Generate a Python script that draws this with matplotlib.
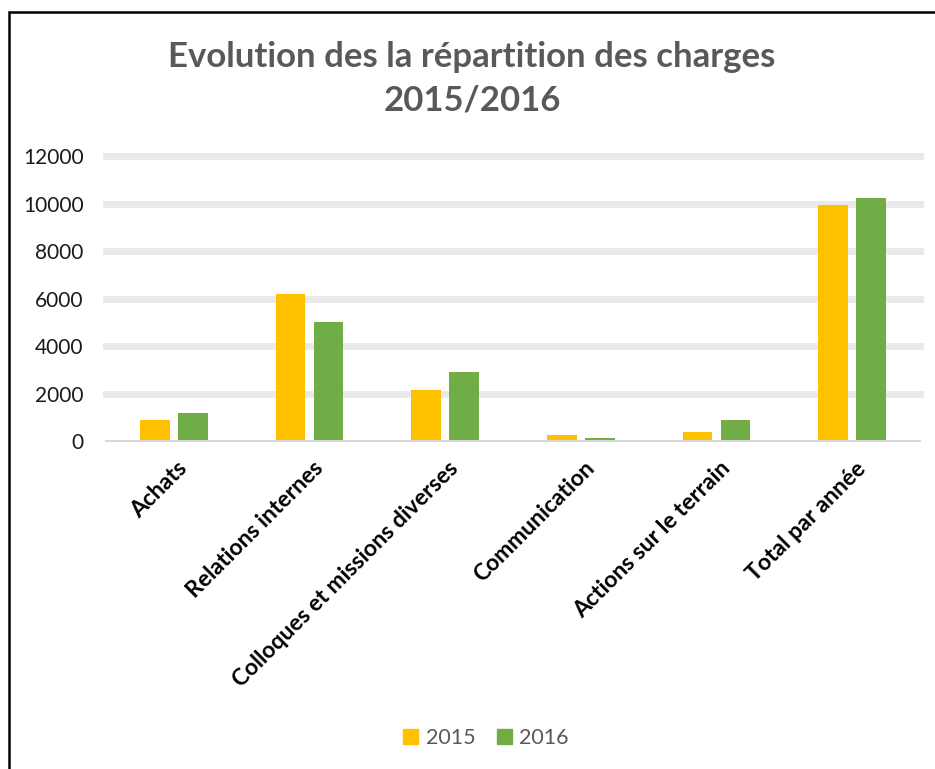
import numpy as np
import matplotlib.pyplot as plt
from matplotlib.patches import Rectangle, Patch

categories = ['Achats', 'Relations internes', 'Colloques et missions diverses',
              'Communication', 'Actions sur le terrain', 'Total par année']
val_2015 = [890, 6190, 2160, 240, 380, 9940]
val_2016 = [1190, 5020, 2900, 130, 880, 10220]
years = ['2015', '2016']
yticks = [0, 2000, 4000, 6000, 8000, 10000, 12000]

plt.rcParams['font.family'] = ['Lato', 'DejaVu Sans']

fig = plt.figure(figsize=(9.35, 7.69), dpi=100)
ax = fig.add_axes([106/935, 1-441/769, 814/935, 285/769])

x = np.arange(len(categories))
w = 0.22
ax.bar(x - 0.14, val_2015, w, color='#FFC000', zorder=3)
ax.bar(x + 0.14, val_2016, w, color='#70AD47', zorder=3)

ax.set_xlim(-0.5, len(categories) - 0.5)
ax.set_ylim(0, 12000)
ax.set_yticks(yticks)
ax.set_yticklabels([str(v) for v in yticks], fontsize=15, color='#1a1a1a')
ax.tick_params(axis='y', length=0, pad=16)
ax.tick_params(axis='x', length=0, pad=12)
ax.set_xticks(x + 0.02)
ax.set_xticklabels(categories, rotation=45, ha='right', rotation_mode='anchor',
                   fontsize=16.5, fontweight='bold', color='black')

for v in yticks[1:]:
    ax.axhline(v, color='#EAEAEA', lw=5, zorder=1, clip_on=False)
ax.axhline(0, color='#D9D9D9', lw=1.5, zorder=4, clip_on=False)
for s in ax.spines.values():
    s.set_visible(False)

fig.text(472/935, 1-79/769, 'Evolution des la répartition des charges\n2015/2016',
         ha='center', va='center', fontsize=25, fontweight='bold', color='#595959',
         linespacing=1.45)

handles = [Patch(color='#FFC000'), Patch(color='#70AD47')]
leg = fig.legend(handles, years, loc='center', bbox_to_anchor=(486/935, 1-738/769),
                 ncol=2, frameon=False, fontsize=15.5, handlelength=0.7, handleheight=0.7,
                 handletextpad=0.35, columnspacing=1.0)
for t in leg.get_texts():
    t.set_color('#595959')

fig.patches.append(Rectangle((9/935, -0.1), 1.2, 1 - 12/769 + 0.1, transform=fig.transFigure,
                             fill=False, edgecolor='black', lw=1.8))

fig.savefig('out.png', dpi=100)
